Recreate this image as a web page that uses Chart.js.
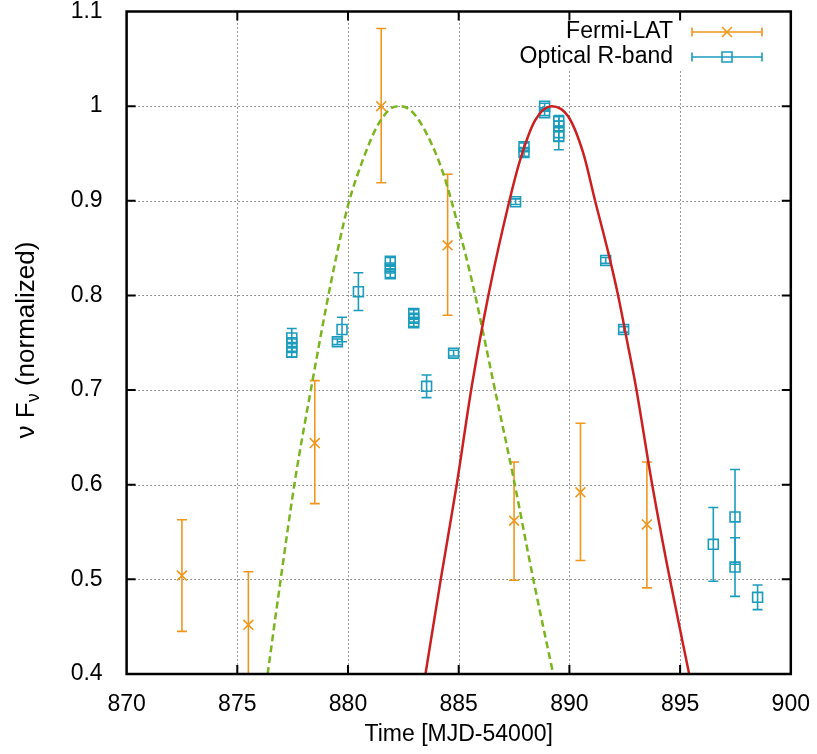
<!DOCTYPE html>
<html><head><meta charset="utf-8">
<script src="https://cdn.jsdelivr.net/npm/chart.js@4.4.0/dist/chart.umd.min.js"></script>
<style>html,body{margin:0;padding:0;background:#fff}#wrap{width:817px;height:754px}</style>
</head><body><div id="wrap"><canvas id="c" width="817" height="754"></canvas></div>
<script>
// ---- data ----
const xTicks = [870, 875, 880, 885, 890, 895, 900];
const xTickLabels = ['870', '875', '880', '885', '890', '895', '900'];
const yTicks = [0.4, 0.5, 0.6, 0.7, 0.8, 0.9, 1.0, 1.1];
const yTickLabels = ['0.4', '0.5', '0.6', '0.7', '0.8', '0.9', '1', '1.1'];
const seriesNames = ['Fermi-LAT', 'Optical R-band'];
const xTitle = 'Time [MJD-54000]';
const yTitleParts = ['\u03bd F', '\u03bd', ' (normalized)'];

const fermiX  = [872.5, 875.5, 878.5, 881.5, 884.5, 887.5, 890.5, 893.5];
const fermiY  = [0.504, 0.452, 0.644, 1.000, 0.853, 0.562, 0.592, 0.558];
const fermiLo = [0.445, 0.396, 0.580, 0.919, 0.779, 0.499, 0.520, 0.491];
const fermiHi = [0.563, 0.508, 0.710, 1.082, 0.928, 0.624, 0.665, 0.624];

const optX = [877.46, 877.46, 877.46, 877.46, 879.52, 879.73, 880.47, 881.91, 881.91, 881.91,
              882.97, 882.97, 882.97, 883.55, 884.77, 887.57, 887.95, 887.95, 888.88, 888.88,
              889.52, 889.52, 889.52, 889.52, 891.64, 892.45, 896.50, 897.48, 897.48, 898.50];
const optY = [0.755, 0.750, 0.745, 0.740, 0.751, 0.764, 0.804, 0.836, 0.829, 0.823,
              0.781, 0.776, 0.771, 0.704, 0.739, 0.899, 0.957, 0.951, 1.000, 0.993,
              0.984, 0.979, 0.972, 0.968, 0.837, 0.764, 0.537, 0.566, 0.513, 0.481];
const optErr = [0.010, 0.004, 0.004, 0.005, 0.003, 0.013, 0.020, 0.004, 0.004, 0.004,
                0.004, 0.004, 0.004, 0.012, 0.003, 0.003, 0.004, 0.004, 0.003, 0.003,
                0.005, 0.005, 0.018, 0.005, 0.003, 0.003, 0.039, 0.050, 0.031, 0.013];

// fitted curves
const gammaFitX = [876.37, 876.96, 877.61, 878.36, 879.20, 880.00, 880.70, 881.30, 881.90, 882.35,
                   882.90, 883.55, 884.30, 884.98, 885.66, 886.64, 887.45, 888.37, 889.27];
const gammaFitY = [0.400, 0.500, 0.605, 0.705, 0.810, 0.895, 0.945, 0.978, 0.997, 1.000,
                   0.994, 0.971, 0.929, 0.873, 0.809, 0.700, 0.610, 0.500, 0.400];
const optFitX = [883.50, 884.19, 884.91, 885.59, 886.34, 887.29, 887.80, 888.45, 889.20,
                 889.95, 890.63, 891.16, 891.76, 892.20, 892.62, 893.00, 893.74, 894.54, 895.41];
const optFitY = [0.400, 0.500, 0.600, 0.704, 0.800, 0.900, 0.945, 0.985, 1.000,
                 0.989, 0.950, 0.900, 0.845, 0.800, 0.750, 0.704, 0.600, 0.500, 0.400];

// ---- styles ----
const ORANGE = '#f0961c';
const TEAL = '#1c9cbd';
const GREEN = '#7ab51d';
const RED = '#cc1f1f';
const FONT = '"Liberation Sans", Arial, Helvetica, sans-serif';
const FS = 23;

const pts = (xs, ys) => xs.map((v, i) => ({x: v, y: ys[i]}));

function drawErr(ctx, x, y, xs, lo, hi, color) {
  ctx.strokeStyle = color; ctx.lineWidth = 1.6;
  for (let i = 0; i < xs.length; i++) {
    const px = x.getPixelForValue(xs[i]);
    const p1 = y.getPixelForValue(lo[i]);
    const p2 = y.getPixelForValue(hi[i]);
    ctx.beginPath();
    ctx.moveTo(px, p1); ctx.lineTo(px, p2);
    ctx.moveTo(px - 5, p1); ctx.lineTo(px + 5, p1);
    ctx.moveTo(px - 5, p2); ctx.lineTo(px + 5, p2);
    ctx.stroke();
  }
}

const decor = {
  id: 'decor',
  beforeDatasetsDraw(chart) {
    const {ctx, chartArea: a, scales: {x, y}} = chart;
    ctx.save();
    ctx.strokeStyle = 'rgba(0,0,0,0.8)'; ctx.lineWidth = 1; ctx.setLineDash([1, 3]);
    xTicks.slice(1, -1).forEach(v => {
      const px = Math.round(x.getPixelForValue(v)) + 0.5;
      ctx.beginPath(); ctx.moveTo(px, a.top); ctx.lineTo(px, a.bottom); ctx.stroke();
    });
    yTicks.slice(1, -1).forEach(v => {
      const py = Math.round(y.getPixelForValue(v)) + 0.5;
      ctx.beginPath(); ctx.moveTo(a.left, py); ctx.lineTo(a.right, py); ctx.stroke();
    });
    ctx.setLineDash([]);
    ctx.beginPath(); ctx.rect(a.left, a.top, a.right - a.left, a.bottom - a.top); ctx.clip();
    drawErr(ctx, x, y, fermiX, fermiLo, fermiHi, ORANGE);
    drawErr(ctx, x, y, optX, optY.map((v, i) => v - optErr[i]), optY.map((v, i) => v + optErr[i]), TEAL);
    ctx.restore();
  },
  afterDraw(chart) {
    const {ctx, chartArea: a, scales: {x, y}} = chart;
    ctx.save();
    // legend box
    ctx.fillStyle = '#fff';
    ctx.fillRect(500, 19, 285, 51);
    ctx.font = FS + 'px ' + FONT;
    ctx.textAlign = 'right'; ctx.textBaseline = 'middle';
    const ly = [32, 57];
    const cols = [ORANGE, TEAL];
    seriesNames.forEach((n, i) => {
      ctx.fillStyle = '#000';
      ctx.fillText(n, 673, ly[i]);
      ctx.strokeStyle = cols[i]; ctx.lineWidth = 1.6;
      ctx.beginPath();
      ctx.moveTo(692, ly[i]); ctx.lineTo(762, ly[i]);
      ctx.moveTo(692, ly[i] - 4.5); ctx.lineTo(692, ly[i] + 4.5);
      ctx.moveTo(762, ly[i] - 4.5); ctx.lineTo(762, ly[i] + 4.5);
      ctx.stroke();
      ctx.beginPath();
      if (i === 0) {
        ctx.moveTo(722, ly[i] - 5); ctx.lineTo(732, ly[i] + 5);
        ctx.moveTo(722, ly[i] + 5); ctx.lineTo(732, ly[i] - 5);
      } else {
        ctx.rect(722, ly[i] - 5, 10, 10);
      }
      ctx.stroke();
    });
    // frame
    ctx.strokeStyle = '#000'; ctx.lineWidth = 2.5;
    ctx.strokeRect(a.left, a.top, a.right - a.left, a.bottom - a.top);
    ctx.lineWidth = 2;
    const T = 9;
    xTicks.slice(1, -1).forEach(v => {
      const px = x.getPixelForValue(v);
      ctx.beginPath();
      ctx.moveTo(px, a.bottom); ctx.lineTo(px, a.bottom - T);
      ctx.moveTo(px, a.top); ctx.lineTo(px, a.top + T);
      ctx.stroke();
    });
    yTicks.slice(1, -1).forEach(v => {
      const py = y.getPixelForValue(v);
      ctx.beginPath();
      ctx.moveTo(a.left, py); ctx.lineTo(a.left + T, py);
      ctx.moveTo(a.right, py); ctx.lineTo(a.right - T, py);
      ctx.stroke();
    });
    // axis titles
    ctx.fillStyle = '#000';
    ctx.font = FS + 'px ' + FONT;
    ctx.textAlign = 'center'; ctx.textBaseline = 'middle';
    ctx.fillText(xTitle, (a.left + a.right) / 2, 735);
    ctx.translate(27, 340);
    ctx.rotate(-Math.PI / 2);
    const YF = 26;
    const subFont = Math.round(YF * 0.7) + 'px ' + FONT;
    ctx.font = YF + 'px ' + FONT; const w0 = ctx.measureText(yTitleParts[0]).width;
    const w2 = ctx.measureText(yTitleParts[2]).width;
    ctx.font = subFont; const w1 = ctx.measureText(yTitleParts[1]).width;
    let sx = -(w0 + w1 + w2) / 2;
    ctx.textAlign = 'left';
    ctx.font = YF + 'px ' + FONT; ctx.fillText(yTitleParts[0], sx, 0); sx += w0;
    ctx.font = subFont; ctx.fillText(yTitleParts[1], sx, 7); sx += w1;
    ctx.font = YF + 'px ' + FONT; ctx.fillText(yTitleParts[2], sx, 0);
    ctx.restore();
  }
};

new Chart(document.getElementById('c'), {
  type: 'scatter',
  data: {
    datasets: [
      {type: 'line', data: pts(optFitX, optFitY), borderColor: RED, borderWidth: 2.5,
       pointRadius: 0, cubicInterpolationMode: 'monotone', fill: false},
      {type: 'line', data: pts(gammaFitX, gammaFitY), borderColor: GREEN, borderWidth: 2.5,
       borderDash: [7, 4], pointRadius: 0, cubicInterpolationMode: 'monotone', fill: false},
      {label: seriesNames[1], data: pts(optX, optY), pointStyle: 'rect', pointRadius: 7,
       borderColor: TEAL, backgroundColor: 'rgba(0,0,0,0)', borderWidth: 1.6},
      {label: seriesNames[0], data: pts(fermiX, fermiY), pointStyle: 'crossRot', pointRadius: 7,
       borderColor: ORANGE, backgroundColor: ORANGE, borderWidth: 1.6}
    ]
  },
  options: {
    responsive: false, animation: false, devicePixelRatio: 1,
    layout: {padding: {left: 0, right: 26.2, top: 11.5, bottom: 0}},
    plugins: {legend: {display: false}, tooltip: {enabled: false}},
    scales: {
      x: {type: 'linear', min: 870, max: 900,
          afterBuildTicks: s => { s.ticks = xTicks.map(v => ({value: v})); },
          afterFit: s => { s.height = 80; s.paddingLeft = 0; s.paddingRight = 0; },
          ticks: {callback: (v) => xTickLabels[xTicks.indexOf(v)], font: {family: FONT, size: FS},
                  color: '#000', padding: 9, maxRotation: 0, autoSkip: false},
          grid: {display: false}, border: {display: false}},
      y: {type: 'linear', min: 0.4, max: 1.1,
          afterBuildTicks: s => { s.ticks = yTicks.map(v => ({value: v})); },
          afterFit: s => { s.width = 126.6; s.paddingTop = 0; s.paddingBottom = 0; },
          ticks: {callback: (v) => { const i = yTicks.findIndex(t => Math.abs(t - v) < 1e-9); return yTickLabels[i]; },
                  font: {family: FONT, size: FS}, color: '#000', padding: 16, autoSkip: false},
          grid: {display: false}, border: {display: false}}
    }
  },
  plugins: [decor]
});
</script></body></html>
